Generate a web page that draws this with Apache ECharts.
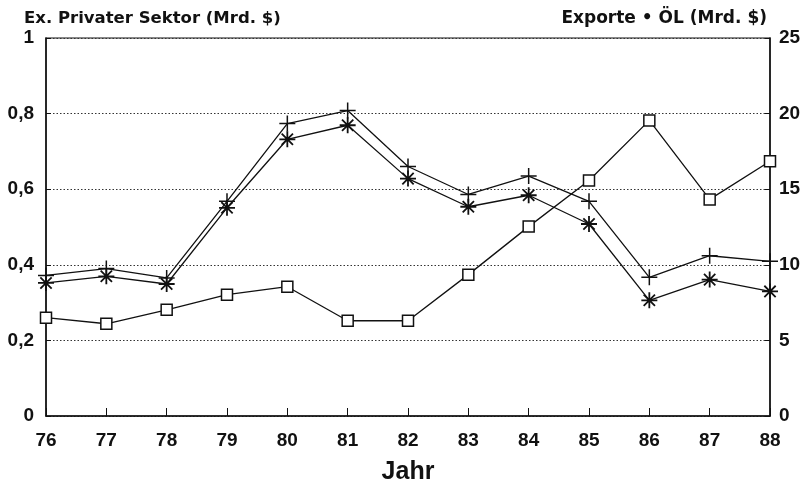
<!DOCTYPE html>
<html>
<head>
<meta charset="utf-8">
<script src="https://cdn.jsdelivr.net/npm/echarts@6/dist/echarts.min.js"></script>
<style>html,body{margin:0;padding:0;background:#fff;}#c{width:809px;height:484px;}</style>
</head>
<body>
<div id="c"></div>
<script>
var years = ['76','77','78','79','80','81','82','83','84','85','86','87','88'];
var privaterSektor = [0.26, 0.244, 0.281, 0.321, 0.342, 0.252, 0.252, 0.374, 0.501, 0.623, 0.782, 0.573, 0.674];
var exporte = [9.3, 9.75, 9.13, 14.2, 19.34, 20.2, 16.5, 14.65, 15.87, 14.2, 9.17, 10.6, 10.23];
var oel = [8.8, 9.24, 8.73, 13.77, 18.3, 19.23, 15.7, 13.84, 14.6, 12.7, 7.65, 9.02, 8.24];
var leftTitle = 'Ex. Privater Sektor (Mrd. $)';
var rightTitle = 'Exporte \u2022 ÖL (Mrd. $)';
var xTitle = 'Jahr';

var FONT = '"Liberation Sans", Arial, sans-serif';
var TFONT = '"DejaVu Sans", sans-serif';
var chart = echarts.init(document.getElementById('c'), null, {renderer: 'canvas'});
var plusPath = 'path://M0,-1L0,1M-1,0L1,0';
var starPath = 'path://M0,-1L0,1M-1,0L1,0M-0.707,-0.707L0.707,0.707M-0.707,0.707L0.707,-0.707';
var labelStyle = {color: '#111', fontFamily: FONT, fontWeight: 'bold', fontSize: 19};
chart.setOption({
  animation: false,
  backgroundColor: '#fff',
  title: [
    {text: leftTitle, left: 19, top: 5, textStyle: {fontFamily: TFONT, fontWeight: 'bold', fontSize: 16.5, color: '#111'}},
    {text: rightTitle, right: 37, top: 5, textStyle: {fontFamily: TFONT, fontWeight: 'bold', fontSize: 17, color: '#111'}}
  ],
  grid: {left: 46, right: 39, top: 38, bottom: 68, containLabel: false, outerBoundsMode: 'none', show: true, borderColor: '#111', borderWidth: 1.2, backgroundColor: 'transparent'},
  xAxis: {
    type: 'category', data: years, boundaryGap: false,
    name: xTitle, nameLocation: 'middle', nameGap: 44,
    nameTextStyle: {fontFamily: FONT, fontWeight: 'bold', fontSize: 25, color: '#111'},
    axisLine: {lineStyle: {color: '#111', width: 1.5}},
    axisTick: {inside: true, length: 8, lineStyle: {color: '#111'}},
    axisLabel: Object.assign({margin: 15}, labelStyle),
    splitLine: {show: false}
  },
  yAxis: [
    {
      type: 'value', min: 0, max: 1, interval: 0.2,
      axisLine: {show: true, lineStyle: {color: '#111', width: 1.5}},
      axisTick: {show: true, inside: true, length: 5, lineStyle: {color: '#111'}},
      axisLabel: Object.assign({margin: 12, formatter: function (v) { return String(Math.round(v * 10) / 10).replace('.', ','); }}, labelStyle),
      splitLine: {show: true, lineStyle: {type: [1.5, 2], color: '#333', width: 1}}
    },
    {
      type: 'value', min: 0, max: 25, interval: 5, position: 'right',
      axisLine: {show: true, lineStyle: {color: '#111', width: 1.5}},
      axisTick: {show: true, inside: true, length: 5, lineStyle: {color: '#111'}},
      axisLabel: Object.assign({margin: 9}, labelStyle),
      splitLine: {show: false}
    }
  ],
  series: [
    {
      name: leftTitle, type: 'line', yAxisIndex: 0, data: privaterSektor,
      symbol: 'rect', symbolSize: 11, showAllSymbol: true,
      lineStyle: {color: '#111', width: 1.3},
      itemStyle: {color: '#fff', borderColor: '#111', borderWidth: 1.5}
    },
    {
      name: 'Exporte', type: 'line', yAxisIndex: 1, data: exporte,
      symbol: plusPath, symbolSize: 16, showAllSymbol: true,
      lineStyle: {color: '#111', width: 1.3},
      itemStyle: {color: '#111', borderColor: '#111', borderWidth: 1.5}
    },
    {
      name: 'Öl', type: 'line', yAxisIndex: 1, data: oel,
      symbol: starPath, symbolSize: 16, showAllSymbol: true,
      lineStyle: {color: '#111', width: 1.3},
      itemStyle: {color: '#111', borderColor: '#111', borderWidth: 1.8}
    }
  ]
});
</script>
</body>
</html>
